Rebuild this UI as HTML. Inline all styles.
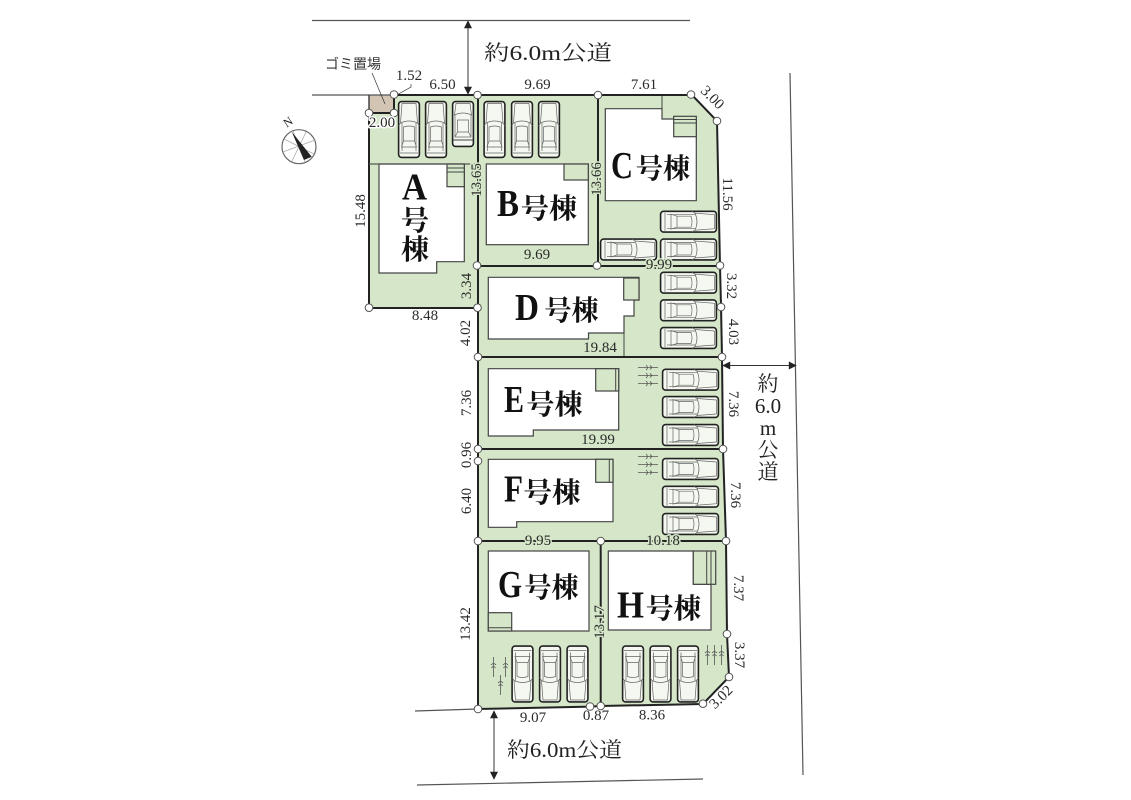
<!DOCTYPE html>
<html lang="ja"><head><meta charset="utf-8"><title>区画図</title>
<style>
html,body{margin:0;padding:0;background:#fff;width:1131px;height:800px;overflow:hidden}
svg{display:block}
.d{font:15px "Liberation Serif","Noto Serif CJK JP",serif;fill:#2a2a2a;text-anchor:middle;dominant-baseline:central}
.w{paint-order:stroke;stroke:#fff;stroke-width:3px;stroke-linejoin:round}
.g{paint-order:stroke;stroke:#d5e7c8;stroke-width:3px;stroke-linejoin:round}
.r{font:21px "Liberation Serif","Noto Serif CJK JP",serif;fill:#222}
.l{font:bold 38px "Liberation Serif",serif;fill:#111}
.k{font:bold 28px "Noto Serif CJK JP","Noto Serif CJK SC",serif;fill:#111}
.b{fill:#fff;stroke:#444;stroke-width:1.2}
.bal{fill:#d5e7c8;stroke:#444;stroke-width:1.2}
.t{fill:none;stroke:#555;stroke-width:.8}
</style></head><body>
<svg width="1131" height="800" viewBox="0 0 1131 800" xmlns="http://www.w3.org/2000/svg">
<defs>
<marker id="ah" viewBox="0 0 10 10" refX="9" refY="5" markerWidth="9" markerHeight="8" orient="auto-start-reverse" markerUnits="userSpaceOnUse"><path d="M0 0L10 5L0 10Z" fill="#222"/></marker>
<g id="car" fill="none" stroke="#222">
<rect x=".6" y=".6" width="20.8" height="55.8" rx="3" fill="#f4f8f0" stroke-width="1.6"/>
<path d="M4 2.500L18 2.500L19.500 22Q11 18 2.500 22Z" stroke-width=".7" stroke="#666"/>
<path d="M2.500 22L.6 25M19.500 22L21.400 25M4 22V50M18 22V50" stroke-width=".7" stroke="#666"/>
<path d="M5.500 26Q11 24 16.500 26V40H5.500Z" stroke-width=".7" stroke="#666"/>
<path d="M5.500 40L3.500 46H18.500L16.500 40M2 52H20" stroke-width=".7" stroke="#666"/>
</g>
<g id="scar" fill="none" stroke="#222">
<rect x=".6" y=".6" width="20.8" height="44.8" rx="3" fill="#f4f8f0" stroke-width="1.6"/>
<path d="M4 2.500H18L19.500 14Q11 10 2.500 14Z" stroke-width=".7" stroke="#666"/>
<path d="M3 14V36M19 14V36M5.500 19H16.500V31H5.500ZM5.500 31L3 36H19L16.500 31" stroke-width=".7" stroke="#666"/>
<path d="M1 39H21" stroke-width="1" stroke="#444"/>
</g>
<g id="tr" class="t"><path d="M0 2.500H20M8 0Q11 2.500 8 5M12 .5Q15 2.500 12 4.500"/></g>
<g id="tv" class="t"><path d="M2.500 0V20M0 8Q2.500 5 5 8M.5 11Q2.500 8 4.500 11"/></g>
</defs>

<!-- site fills -->
<path fill="#d5e7c8" d="M369 113H394V95H692L717 121L720 266L721 306L722 357L723 449L726 541L727 634L729 677L703 704L600.700 706L590 706.600L478 709V308H369Z"/>
<rect x="369" y="95" width="25" height="18" fill="#d3c5b3"/>

<!-- roads -->
<g stroke="#555" stroke-width="1.200" fill="none">
<path d="M312 20.500H690"/>
<path d="M312 95H394"/>
<path d="M415 711L478 709"/>
<path d="M417 785L703 779"/>
<path d="M790 73L803 775"/>
<path d="M369 95V113" stroke="#444" stroke-width="1.500"/>
</g>
<g stroke="#333" stroke-width="1" fill="none">
<path d="M468 21V94" marker-start="url(#ah)" marker-end="url(#ah)"/>
<path d="M723 365.500H796" marker-start="url(#ah)" marker-end="url(#ah)"/>
<path d="M494 711V779" marker-start="url(#ah)" marker-end="url(#ah)"/>
<path d="M393 97L411 87V84" stroke-width=".7"/>
<path d="M372 73L385 104" stroke-width=".7"/>
</g>

<!-- buildings -->
<path class="b" d="M379 164H464.300V261.700H436.700V273H379Z"/>
<rect class="bal" x="447" y="164" width="17.300" height="22.700"/>
<path d="M447 168H464M447 172H464" stroke="#444" stroke-width=".9"/>
<rect class="b" x="486.300" y="164" width="102" height="80.700"/>
<rect class="bal" x="564" y="164" width="24.300" height="16"/>
<path class="b" d="M605.300 108.700H662V119H696.300V200.700H605.300Z"/>
<rect class="bal" x="673.700" y="116.300" width="22.600" height="20.400"/>
<path d="M673.700 119.500H696M673.700 123H696M662 95V119" stroke="#444" stroke-width="1" fill="none"/>
<path class="b" d="M488.300 277.300H639V300H634V316H624V333H588.500V339H488.300Z"/>
<rect class="bal" x="623.700" y="278" width="15.300" height="22"/>
<path d="M624 333V357" stroke="#444" stroke-width="1"/>
<path class="b" d="M488.300 368.700H618.700V430H533.300V436H488.300Z"/>
<rect class="bal" x="595.700" y="368.700" width="23" height="22.300"/>
<path d="M615.700 368.700V391" stroke="#444"/>
<path class="b" d="M488.300 459.300H613V521.700H516.700V527.300H488.300Z"/>
<rect class="bal" x="595.700" y="459.300" width="17.300" height="23"/>
<path d="M609.300 459.300V482.300" stroke="#444"/>
<rect class="b" x="488.300" y="551" width="100.700" height="80"/>
<rect class="bal" x="488.300" y="612.700" width="23.400" height="18.300"/>
<path d="M488.300 627.700H511.700" stroke="#444"/>
<path class="b" d="M608.300 551H693.300V584.300H711V630H608.300Z"/>
<rect class="bal" x="693.300" y="551" width="22.400" height="33.300"/>
<path d="M706.700 551V584.300M711 551V584.300" stroke="#444"/>

<!-- boundaries -->
<g fill="none" stroke="#222" stroke-width="2">
<path d="M394 95H692L717 121L720 266L721 306L722 357L723 449L726 541L727 634L729 677L703 704L600.700 706L590 706.600L478 709V95"/>
<path d="M369 113H394V95M369 113V308H478"/>
<path d="M478 266H720M598 95V266M478 357H722M478 449H723M478 541H726M600.700 541V706"/>
<path d="M369 164H477" stroke="#555" stroke-width="1.200"/>
</g>

<!-- cars -->
<use href="#car" x="398" y="101"/><use href="#car" x="425" y="101"/><use href="#scar" x="452" y="101"/>
<use href="#car" x="483.500" y="101"/><use href="#car" x="511" y="101"/><use href="#car" x="538" y="101"/>
<g>
<use href="#car" transform="translate(717 210.700) rotate(90)"/>
<use href="#car" transform="translate(717 238.500) rotate(90)"/>
<use href="#car" transform="translate(657 238.500) rotate(90)"/>
<use href="#car" transform="translate(717 271.700) rotate(90)"/>
<use href="#car" transform="translate(717 299.300) rotate(90)"/>
<use href="#car" transform="translate(717 327) rotate(90)"/>
<use href="#car" transform="translate(719 368.700) rotate(90)"/>
<use href="#car" transform="translate(719 396) rotate(90)"/>
<use href="#car" transform="translate(719 424) rotate(90)"/>
<use href="#car" transform="translate(719 458) rotate(90)"/>
<use href="#car" transform="translate(719 485.700) rotate(90)"/>
<use href="#car" transform="translate(719 513) rotate(90)"/>
<use href="#car" transform="translate(533.500 702.500) rotate(180)"/>
<use href="#car" transform="translate(561 702.500) rotate(180)"/>
<use href="#car" transform="translate(588.500 702.500) rotate(180)"/>
<use href="#car" transform="translate(644 702.500) rotate(180)"/>
<use href="#car" transform="translate(671.500 702.500) rotate(180)"/>
<use href="#car" transform="translate(699 702.500) rotate(180)"/>
</g>

<!-- plants -->
<use href="#tr" x="638" y="365"/><use href="#tr" x="638" y="373"/><use href="#tr" x="638" y="381"/>
<use href="#tr" x="638" y="454"/><use href="#tr" x="638" y="462"/><use href="#tr" x="638" y="470"/>
<use href="#tv" x="705" y="645"/><use href="#tv" x="712" y="645"/><use href="#tv" x="719" y="645"/>
<use href="#tv" x="491" y="657"/><use href="#tv" x="503" y="657"/><use href="#tv" x="498" y="675"/>

<!-- compass -->
<circle cx="299" cy="146.700" r="17" fill="#fff" stroke="#666" stroke-width="1.200"/>
<path d="M283 152L315 140M293 131L305 162M284 139L314 154M306 132L292 161" stroke="#aaa" stroke-width=".8"/>
<path d="M291.700 131.700L311.700 156.700L304 160Z" fill="#222"/>
<text x="288" y="122" transform="rotate(-35 288 122)" text-anchor="middle" dominant-baseline="central" style="font:12px 'Liberation Serif',serif;fill:#222">N</text>

<!-- vertices -->
<g fill="#fff" stroke="#555" stroke-width="1">
<circle cx="394" cy="94.500" r="3.800"/><circle cx="369" cy="113" r="3.800"/><circle cx="394" cy="113" r="3.800"/>
<circle cx="477.500" cy="95" r="3.800"/><circle cx="598" cy="95" r="3.800"/><circle cx="691" cy="94.500" r="3.800"/>
<circle cx="717" cy="121" r="3.800"/><circle cx="720" cy="265.500" r="3.800"/><circle cx="721" cy="307" r="3.800"/>
<circle cx="722" cy="357" r="3.800"/><circle cx="723" cy="449" r="3.800"/><circle cx="726" cy="541" r="3.800"/>
<circle cx="727" cy="634" r="3.800"/><circle cx="729" cy="677" r="3.800"/><circle cx="703" cy="703.700" r="3.800"/>
<circle cx="600.700" cy="706" r="3.800"/><circle cx="590" cy="706.500" r="3.800"/><circle cx="478" cy="709" r="3.800"/>
<circle cx="478" cy="541" r="3.800"/><circle cx="600.700" cy="541" r="3.800"/><circle cx="478" cy="461" r="3.800"/>
<circle cx="478" cy="449" r="3.800"/><circle cx="478" cy="357" r="3.800"/><circle cx="477.500" cy="307.700" r="3.800"/>
<circle cx="477" cy="265.500" r="3.800"/><circle cx="597" cy="265.500" r="3.800"/><circle cx="369" cy="307.700" r="3.800"/>
</g>

<!-- building labels -->
<text class="l" x="402" y="199.500" textLength="25" lengthAdjust="spacingAndGlyphs">A</text>
<text class="k" x="401" y="230">号</text><text class="k" x="401" y="259">棟</text>
<text class="l" x="497" y="216" textLength="22" lengthAdjust="spacingAndGlyphs">B</text><text class="k" x="521" y="218" textLength="56" lengthAdjust="spacingAndGlyphs">号棟</text>
<text class="l" x="611" y="178" textLength="22" lengthAdjust="spacingAndGlyphs">C</text><text class="k" x="636" y="178" textLength="54" lengthAdjust="spacingAndGlyphs">号棟</text>
<text class="l" x="515" y="320" textLength="24" lengthAdjust="spacingAndGlyphs">D</text><text class="k" x="544.500" y="320" textLength="54" lengthAdjust="spacingAndGlyphs">号棟</text>
<text class="l" x="504" y="412" textLength="20" lengthAdjust="spacingAndGlyphs">E</text><text class="k" x="526.500" y="414" textLength="56" lengthAdjust="spacingAndGlyphs">号棟</text>
<text class="l" x="504" y="501.500" textLength="19" lengthAdjust="spacingAndGlyphs">F</text><text class="k" x="523.500" y="502" textLength="57" lengthAdjust="spacingAndGlyphs">号棟</text>
<text class="l" x="498" y="597" textLength="24" lengthAdjust="spacingAndGlyphs">G</text><text class="k" x="524.500" y="597" textLength="54" lengthAdjust="spacingAndGlyphs">号棟</text>
<text class="l" x="617" y="617.500" textLength="27" lengthAdjust="spacingAndGlyphs">H</text><text class="k" x="646" y="618" textLength="55" lengthAdjust="spacingAndGlyphs">号棟</text>

<!-- road labels -->
<text class="r" x="484" y="60" textLength="128" lengthAdjust="spacingAndGlyphs">約6.0m公道</text>
<text class="r" x="507" y="757" textLength="115" lengthAdjust="spacingAndGlyphs">約6.0m公道</text>
<g class="r" text-anchor="middle">
<text x="768" y="391">約</text><text x="768" y="413">6.0</text><text x="768" y="435">m</text><text x="768" y="457">公</text><text x="768" y="479">道</text>
</g>
<text x="353" y="64" text-anchor="middle" dominant-baseline="central" textLength="56" lengthAdjust="spacingAndGlyphs" style="font:14px 'Noto Sans CJK JP',sans-serif;fill:#333">ゴミ置場</text>

<!-- dimensions -->
<text class="d" x="409" y="76">1.52</text>
<text class="d" x="442.500" y="85">6.50</text>
<text class="d" x="537.500" y="85">9.69</text>
<text class="d" x="644" y="85">7.61</text>
<text class="d" transform="translate(712 98) rotate(45)">3.00</text>
<text class="d w" x="382" y="123">2.00</text>
<text class="d" transform="translate(361 211) rotate(-90)">15.48</text>
<text class="d g" transform="translate(477 180) rotate(-90)">13.65</text>
<text class="d g" transform="translate(597 179) rotate(-90)">13.66</text>
<text class="d" transform="translate(727 194) rotate(90)">11.56</text>
<text class="d" x="537" y="255">9.69</text>
<text class="d g" x="659" y="265">9.99</text>
<text class="d" transform="translate(731 286) rotate(90)">3.32</text>
<text class="d" transform="translate(733 332) rotate(90)">4.03</text>
<text class="d" transform="translate(467 286) rotate(-90)">3.34</text>
<text class="d" transform="translate(466 333) rotate(-90)">4.02</text>
<text class="d" x="425" y="316">8.48</text>
<text class="d" x="600" y="348">19.84</text>
<text class="d" transform="translate(467 403) rotate(-90)">7.36</text>
<text class="d" x="598" y="440">19.99</text>
<text class="d" transform="translate(467 455) rotate(-90)">0.96</text>
<text class="d" transform="translate(467 501) rotate(-90)">6.40</text>
<text class="d" transform="translate(733 404) rotate(90)">7.36</text>
<text class="d" transform="translate(735 495) rotate(90)">7.36</text>
<text class="d g" x="538" y="541">9.95</text>
<text class="d g" x="663" y="541">10.18</text>
<text class="d" transform="translate(466 624) rotate(-90)">13.42</text>
<text class="d g" transform="translate(600 622) rotate(-90)">13.17</text>
<text class="d" transform="translate(738 588) rotate(90)">7.37</text>
<text class="d" transform="translate(739 655) rotate(90)">3.37</text>
<text class="d" transform="translate(721.500 697.500) rotate(-45)">3.02</text>
<text class="d" x="533" y="718">9.07</text>
<text class="d" x="596" y="716">0.87</text>
<text class="d" x="652" y="715.500">8.36</text>
</svg>
</body></html>
